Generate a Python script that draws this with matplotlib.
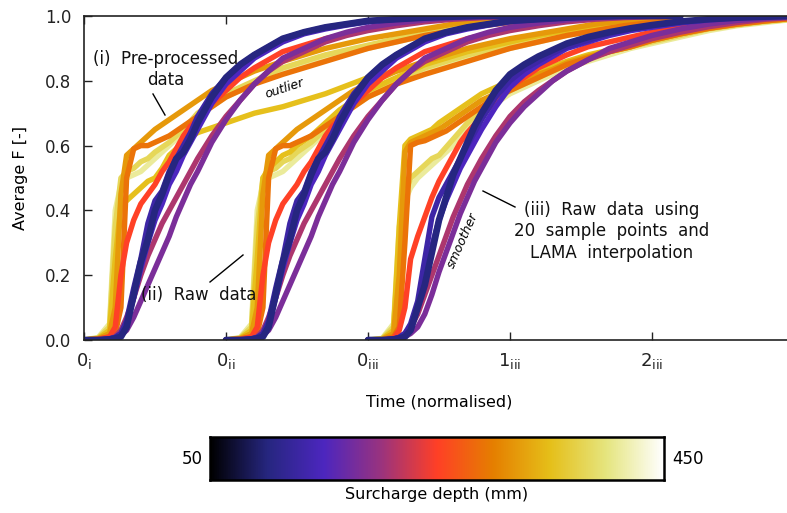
import numpy as np
import matplotlib
matplotlib.use("Agg")
import matplotlib.pyplot as plt
from matplotlib.colors import Normalize

# ---------------- data ----------------
# time grid (normalised, relative to each panel's origin)
t_grid = [0, .1, .18, .22, .26, .3, .35, .4, .45, .5, .55, .6, .65, .7, .75, .8,
          .9, 1.0, 1.1, 1.2, 1.3, 1.4, 1.55, 1.7, 1.85, 2.0, 2.2, 2.4, 2.6, 2.8, 3.0, 3.2]

depths = [410, 380, 350, 320, 290, 250, 210, 180, 150, 130, 100]

# raw data curves (panels i and ii)
raw_410 = [0, .008, .05, .40, .48, .50, .51, .52, .54, .56, .58, .60, .62, .64, .665, .69, .72, .75, .77, .79, .81, .83, .85, .87, .885, .90, .92, .94, .955, .97, .98, .99]
raw_380 = [0, .006, .04, .35, .50, .52, .53, .55, .56, .58, .595, .61, .63, .65, .675, .70, .73, .76, .78, .80, .82, .84, .86, .88, .895, .91, .93, .945, .96, .975, .985, .995]
raw_350 = [0, .005, .03, .25, .50, .53, .55, .57, .58, .60, .615, .63, .65, .67, .69, .71, .74, .77, .79, .81, .83, .85, .87, .89, .905, .92, .94, .955, .97, .98, .99, 1.0]
raw_320 = [0, .004, .02, .10, .45, .57, .59, .61, .63, .65, .665, .68, .695, .71, .725, .74, .77, .79, .81, .83, .845, .86, .88, .90, .915, .93, .945, .96, .975, .985, .993, 1.0]
raw_290 = [0, .003, .01, .02, .10, .50, .59, .60, .60, .61, .62, .63, .645, .66, .675, .69, .72, .75, .77, .79, .805, .82, .84, .86, .88, .90, .92, .94, .955, .97, .98, .99]
raw_250 = [0, .002, .01, .04, .20, .30, .37, .42, .45, .48, .52, .55, .59, .63, .66, .68, .73, .77, .81, .84, .865, .89, .91, .93, .945, .96, .975, .985, .992, .996, .999, 1.0]
raw_210 = [0, 0, .004, .01, .03, .07, .13, .20, .26, .31, .36, .40, .44, .48, .52, .56, .63, .69, .74, .79, .83, .86, .89, .92, .94, .955, .97, .982, .99, .995, .998, 1.0]
raw_180 = [0, 0, .002, .006, .015, .03, .07, .12, .17, .22, .27, .32, .38, .43, .48, .52, .61, .68, .74, .79, .83, .87, .90, .93, .95, .965, .978, .988, .994, .998, 1.0, 1.0]
raw_150 = [0, 0, .003, .008, .02, .05, .13, .22, .30, .37, .42, .48, .52, .57, .61, .65, .73, .79, .83, .87, .895, .92, .945, .96, .972, .982, .99, .995, .998, 1.0, 1.0, 1.0]
raw_130 = [0, 0, .003, .008, .02, .06, .16, .25, .36, .43, .46, .52, .56, .60, .64, .69, .76, .81, .85, .88, .905, .93, .95, .965, .975, .985, .99, .995, .998, 1.0, 1.0, 1.0]
raw_100 = [0, 0, .002, .005, .01, .04, .14, .24, .31, .40, .45, .51, .56, .58, .62, .67, .75, .81, .85, .88, .905, .93, .95, .965, .975, .985, .99, .995, .998, 1.0, 1.0, 1.0]

# outlier curve (panel i only, replaces the 350 mm curve)
outlier_350 = [0, .005, .03, .25, .42, .43, .45, .47, .49, .50, .53, .57, .59, .61, .625, .64, .655, .67, .685, .70, .71, .72, .74, .76, .785, .81, .83, .85, .87, .89, .91, .93]

# smooth curves (panel iii, LAMA interpolation)
lama_410 = [0, .005, .05, .35, .43, .47, .50, .52, .54, .56, .58, .60, .625, .65, .675, .70, .73, .76, .78, .80, .82, .84, .86, .88, .90, .915, .935, .955, .97, .98, .99, .995]
lama_380 = [0, .004, .04, .30, .45, .50, .52, .54, .56, .57, .595, .62, .645, .67, .69, .71, .74, .77, .79, .81, .83, .85, .87, .89, .905, .92, .94, .96, .972, .983, .99, .997]
lama_350 = [0, .003, .03, .35, .60, .62, .63, .64, .65, .67, .685, .70, .715, .73, .745, .76, .78, .80, .815, .83, .845, .86, .88, .895, .91, .925, .945, .962, .975, .985, .993, .998]
lama_320 = [0, .002, .02, .20, .58, .61, .62, .63, .64, .65, .665, .68, .695, .71, .725, .74, .76, .79, .805, .82, .835, .855, .875, .89, .905, .925, .945, .962, .975, .985, .993, .998]
lama_290 = [0, .001, .01, .04, .30, .60, .61, .615, .625, .635, .645, .66, .675, .69, .705, .72, .75, .77, .79, .81, .83, .85, .87, .89, .905, .925, .945, .962, .975, .985, .993, .998]
lama_250 = [0, 0, .005, .03, .10, .25, .32, .38, .44, .49, .53, .57, .61, .64, .665, .69, .74, .78, .81, .84, .86, .88, .905, .92, .935, .95, .965, .978, .987, .993, .997, 1.0]
lama_210 = [0, 0, .003, .008, .02, .04, .08, .14, .20, .26, .32, .38, .43, .48, .52, .56, .63, .69, .735, .77, .80, .83, .865, .89, .91, .93, .95, .967, .98, .99, .996, 1.0]
lama_180 = [0, 0, .002, .005, .01, .02, .04, .08, .14, .21, .27, .33, .39, .44, .49, .53, .61, .67, .72, .76, .80, .83, .865, .90, .92, .94, .96, .975, .986, .993, .998, 1.0]
lama_150 = [0, 0, .003, .008, .02, .04, .10, .19, .29, .37, .43, .48, .53, .57, .61, .65, .72, .78, .82, .85, .875, .90, .92, .94, .955, .965, .978, .988, .994, .998, 1.0, 1.0]
lama_130 = [0, 0, .003, .008, .02, .05, .12, .25, .38, .44, .48, .52, .56, .60, .64, .68, .75, .80, .835, .86, .885, .905, .925, .945, .96, .97, .982, .99, .995, .998, 1.0, 1.0]
lama_100 = [0, 0, .002, .005, .01, .03, .10, .17, .27, .37, .44, .51, .56, .61, .66, .70, .77, .82, .85, .875, .895, .915, .935, .95, .962, .972, .983, .99, .995, .998, 1.0, 1.0]

raw_curves = [raw_410, raw_380, raw_350, raw_320, raw_290, raw_250,
              raw_210, raw_180, raw_150, raw_130, raw_100]
lama_curves = [lama_410, lama_380, lama_350, lama_320, lama_290, lama_250,
               lama_210, lama_180, lama_150, lama_130, lama_100]

panel_offsets = [0, 1, 2]
x_tick_pos = [0, 1, 2, 3, 4]
x_tick_labels = [r'$0_{\mathrm{i}}$', r'$0_{\mathrm{ii}}$', r'$0_{\mathrm{iii}}$',
                 r'$1_{\mathrm{iii}}$', r'$2_{\mathrm{iii}}$']
y_ticks = [0.0, 0.2, 0.4, 0.6, 0.8, 1.0]
depth_min, depth_max = 50, 450

# ---------------- plot ----------------
W, H = 787, 513
fig = plt.figure(figsize=(W / 100, H / 100), dpi=100)
ax = fig.add_axes([84 / W, 1 - 340 / H, 710 / W, 324 / H])

cmap = plt.get_cmap('CMRmap')
norm = Normalize(depth_min, depth_max)
t = np.array(t_grid)


def style(d):
    return dict(color=cmap(norm(d)), lw=4.8 if d == 100 else 3.9,
                solid_capstyle='round', solid_joinstyle='round')


# panel i (with outlier)
for d, c in zip(depths, raw_curves):
    y = outlier_350 if d == 350 else c
    ax.plot(t + panel_offsets[0], y, **style(d))
# panel ii
for d, c in zip(depths, raw_curves):
    ax.plot(t + panel_offsets[1], c, **style(d))
# panel iii
for d, c in zip(depths, lama_curves):
    ax.plot(t + panel_offsets[2], c, **style(d))

FS = 12
ax.set_xlim(0, 5)
ax.set_ylim(0, 1)
ax.set_xticks(x_tick_pos)
ax.set_xticklabels(x_tick_labels, fontsize=13)
ax.set_yticks(y_ticks)
ax.set_yticklabels([f'{v:.1f}' for v in y_ticks], fontsize=FS)
ax.tick_params(axis='both', direction='in', length=6, width=1, top=True,
               right=False, colors='#222222')
ax.tick_params(axis='x', pad=8)
ax.tick_params(axis='y', pad=9)
for s in ['left', 'bottom', 'top']:
    ax.spines[s].set_linewidth(1.2)
    ax.spines[s].set_color('#222222')
ax.spines['right'].set_visible(False)
ax.set_ylabel('Average F [-]', fontsize=11.5, labelpad=12)
ax.set_xlabel('Time (normalised)', fontsize=11.5, labelpad=17)


def px(xp, yp):
    """figure pixel -> figure fraction"""
    return xp / W, 1 - yp / H


def connector(x0, y0, x1, y1):
    fig.add_artist(plt.Line2D([x0 / W, x1 / W], [1 - y0 / H, 1 - y1 / H],
                              transform=fig.transFigure, color='black', lw=1))


txt_kw = dict(transform=fig.transFigure, fontsize=FS, color='#111111',
              ha='center', va='center')
fig.text(*px(166, 59), '(i)  Pre-processed', **txt_kw)
fig.text(*px(166, 80), 'data', **txt_kw)
connector(153, 94, 165, 115)

fig.text(*px(199, 295), '(ii)  Raw  data', **txt_kw)
connector(210, 282, 243, 255)

for i, line in enumerate(['(iii)  Raw  data  using', '20  sample  points  and',
                          'LAMA  interpolation']):
    fig.text(*px(612, 210 + i * 21.5), line, **txt_kw)
connector(483, 191, 515, 207)

fig.text(*px(284, 88), 'outlier', rotation=18, style='italic', fontsize=9,
         transform=fig.transFigure, ha='center', va='center')
fig.text(*px(463, 240), 'smoother', rotation=66, style='italic', fontsize=9,
         transform=fig.transFigure, ha='center', va='center')

# colorbar
cax = fig.add_axes([210 / W, 1 - 480 / H, 454 / W, 43 / H])
grad = np.linspace(0, 1, 512)[None, :]
cax.imshow(grad, aspect='auto', cmap=cmap, extent=[depth_min, depth_max, 0, 1])
cax.set_xticks([])
cax.set_yticks([])
for s in cax.spines.values():
    s.set_linewidth(1.8)
    s.set_color('black')
fig.text(*px(203, 459), str(depth_min), ha='right', va='center', fontsize=FS)
fig.text(*px(672, 459), str(depth_max), ha='left', va='center', fontsize=FS)
fig.text(*px(437, 495), 'Surcharge depth (mm)', ha='center', va='center', fontsize=11.5)

fig.savefig('out.png', dpi=100)
